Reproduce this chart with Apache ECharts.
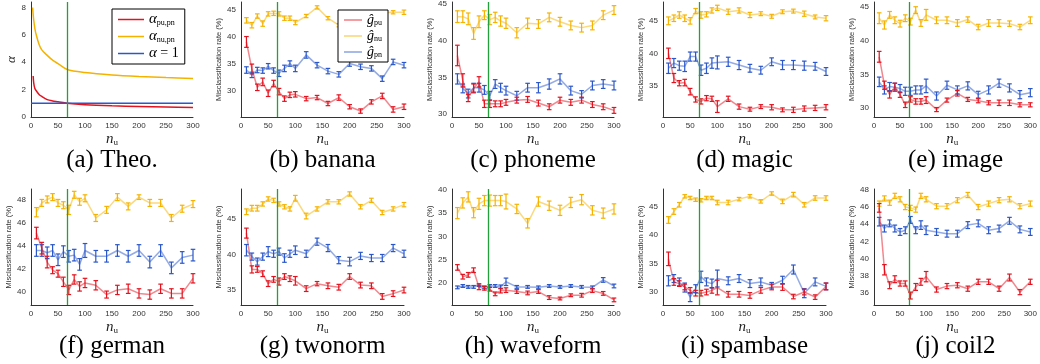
<!DOCTYPE html>
<html>
<head>
<meta charset="utf-8">
<script src="https://cdn.jsdelivr.net/npm/echarts@6/dist/echarts.min.js"></script>
<style>
  html, body { margin: 0; padding: 0; background: #fff; }
  #chart { width: 1040px; height: 364px; }
</style>
</head>
<body>
<div id="chart"></div>
<script>
// number of unlabeled samples
const nU = [10, 20, 30, 40, 50, 60, 70, 80, 90, 100, 120, 140, 160, 180, 200, 220, 240, 260, 280, 300];

// (a) theoretical alpha curves
const theoN = [3, 4, 5, 7, 10, 15, 20, 30, 40, 50, 67, 100, 150, 200, 250, 300];
const theoPu = [null, 3.0, 2.5, 2.1, 1.9, 1.65, 1.5, 1.27, 1.17, 1.11, 1.0, 0.9, 0.82, 0.77, 0.73, 0.7];
const theoNu = [8.0, 7.5, 7.1, 6.5, 5.95, 5.3, 4.9, 4.5, 4.15, 3.9, 3.47, 3.25, 3.07, 2.96, 2.88, 2.82];
const theoOne = [1, 1];
const theoOneN = [0, 300];

// misclassification rates (%) and error bars
const bananaPu = [39.1, 34.1, 30.7, 31.7, 29.6, 31.4, 29.9, 28.6, 29.3, 29.4, 28.6, 28.8, 27.7, 28.8, 27.1, 26.3, 28.0, 29.1, 26.6, 27.1];
const bananaNu = [43.1, 42.2, 43.9, 42.5, 44.3, 44.4, 44.3, 43.5, 43.5, 42.7, 43.9, 45.5, 43.5, 42.2, 43.5, 43.8, 44.0, 44.5, 44.6, 44.6];
const bananaPn = [33.9, 33.0, 33.9, 33.8, 34.6, 33.8, 33.3, 34.2, 35.1, 34.2, 36.7, 34.8, 33.7, 33.1, 35.1, 34.5, 34.2, 32.3, 35.4, 34.8];
const bananaPuErr = [1.0, 0.9, 0.6, 0.7, 0.6, 0.6, 0.6, 0.5, 0.5, 0.5, 0.4, 0.4, 0.4, 0.5, 0.4, 0.4, 0.4, 0.5, 0.5, 0.5];
const bananaNuErr = [0.5, 0.5, 0.4, 0.5, 0.4, 0.4, 0.4, 0.4, 0.4, 0.4, 0.3, 0.3, 0.3, 0.3, 0.3, 0.3, 0.3, 0.3, 0.3, 0.4];
const bananaPnErr = [0.6, 0.5, 0.5, 0.5, 0.5, 0.5, 0.6, 0.6, 0.5, 0.6, 0.6, 0.5, 0.5, 0.5, 0.5, 0.5, 0.5, 0.5, 0.5, 0.5];

const phonemePu = [38.0, 34.6, 32.2, 33.5, 34.4, 31.4, 31.4, 31.4, 31.4, 31.6, 31.9, 32.0, 31.5, 31.0, 31.9, 31.6, 31.9, 31.3, 31.0, 30.5];
const phonemeNu = [43.3, 43.3, 43.0, 41.0, 42.6, 43.5, 42.9, 43.2, 42.7, 42.4, 41.1, 42.4, 42.3, 43.2, 42.6, 42.1, 41.8, 42.1, 43.5, 44.2];
const phonemePn = [34.8, 33.5, 32.8, 33.6, 33.6, 33.3, 32.5, 34.1, 33.6, 33.2, 32.5, 33.6, 33.6, 34.1, 34.8, 33.2, 32.7, 33.9, 34.1, 33.9];
const phonemePuErr = [1.4, 0.9, 0.5, 0.6, 0.7, 0.5, 0.5, 0.4, 0.4, 0.4, 0.4, 0.4, 0.4, 0.4, 0.4, 0.4, 0.4, 0.4, 0.4, 0.4];
const phonemeNuErr = [0.8, 0.8, 0.8, 0.8, 0.8, 0.6, 0.7, 0.7, 0.7, 0.7, 0.7, 0.7, 0.6, 0.6, 0.6, 0.6, 0.6, 0.6, 0.6, 0.6];
const phonemePnErr = [0.7, 0.6, 0.6, 0.6, 0.6, 0.6, 0.6, 0.6, 0.6, 0.6, 0.6, 0.6, 0.7, 0.7, 0.7, 0.6, 0.5, 0.6, 0.6, 0.6];

const magicPu = [40.0, 36.2, 35.4, 35.5, 34.1, 32.9, 32.6, 33.1, 33.0, 31.8, 33.0, 31.8, 31.4, 31.8, 31.7, 31.3, 31.3, 31.5, 31.6, 31.7];
const magicNu = [45.0, 45.4, 45.9, 45.4, 45.0, 46.5, 45.9, 46.0, 46.6, 47.0, 46.4, 46.6, 45.9, 46.1, 45.7, 46.4, 46.5, 46.1, 45.6, 45.4];
const magicPn = [37.7, 38.5, 38.1, 38.0, 39.5, 39.5, 37.4, 37.7, 38.5, 38.6, 38.7, 38.2, 37.7, 37.4, 38.7, 38.2, 38.2, 38.1, 38.0, 37.2];
const magicPuErr = [0.8, 0.7, 0.4, 0.5, 0.5, 0.4, 0.4, 0.4, 0.4, 0.9, 0.4, 0.4, 0.3, 0.3, 0.4, 0.3, 0.4, 0.4, 0.4, 0.4];
const magicNuErr = [0.6, 0.5, 0.5, 0.5, 0.5, 0.4, 0.5, 0.4, 0.4, 0.4, 0.4, 0.4, 0.4, 0.3, 0.3, 0.3, 0.3, 0.4, 0.3, 0.4];
const magicPnErr = [0.8, 0.7, 0.7, 0.8, 0.7, 0.7, 0.8, 0.8, 0.8, 1.0, 0.7, 0.7, 0.6, 0.6, 0.6, 0.7, 0.7, 0.7, 0.6, 0.6];

const imagePu = [37.6, 33.4, 32.0, 33.2, 32.0, 30.5, 31.3, 31.0, 31.0, 31.2, 29.8, 31.2, 32.2, 31.3, 31.1, 30.8, 30.8, 30.8, 30.5, 30.5];
const imageNu = [43.3, 42.3, 43.8, 43.0, 42.5, 43.3, 42.8, 44.5, 42.6, 43.8, 43.0, 43.0, 42.6, 43.1, 42.0, 42.6, 42.6, 42.5, 42.0, 43.0];
const imagePn = [33.9, 32.7, 33.2, 33.1, 32.9, 32.5, 32.5, 32.7, 32.7, 33.3, 31.8, 33.4, 32.7, 33.3, 32.0, 32.7, 33.7, 33.0, 32.0, 32.3];
const imagePuErr = [0.8, 0.6, 0.5, 0.5, 0.4, 0.4, 0.4, 0.4, 0.4, 0.5, 0.3, 0.3, 0.4, 0.3, 0.3, 0.3, 0.4, 0.4, 0.3, 0.3];
const imageNuErr = [0.8, 0.6, 0.5, 0.5, 0.5, 0.5, 0.5, 0.5, 0.5, 0.8, 0.5, 0.5, 0.5, 0.4, 0.4, 0.5, 0.5, 0.4, 0.4, 0.5];
const imagePnErr = [0.7, 0.6, 0.6, 0.6, 0.6, 0.6, 0.6, 0.6, 0.6, 1.0, 0.6, 0.6, 0.6, 0.6, 0.5, 0.6, 0.6, 0.6, 0.6, 0.6];

const germanPu = [45.1, 43.8, 42.6, 41.9, 41.6, 40.9, 40.2, 41.1, 40.5, 40.8, 40.6, 39.8, 40.2, 40.3, 39.9, 39.8, 40.3, 39.9, 39.9, 41.2];
const germanNu = [46.9, 47.7, 48.0, 48.2, 47.7, 47.5, 47.1, 48.4, 47.8, 48.1, 46.4, 47.1, 48.2, 47.4, 48.2, 47.7, 47.7, 46.4, 47.2, 47.6];
const germanPn = [43.6, 43.6, 43.4, 43.6, 42.8, 43.5, 43.1, 43.2, 42.4, 43.6, 43.1, 43.1, 43.6, 43.1, 43.6, 42.6, 43.6, 42.1, 43.0, 43.2];
const germanPuErr = [0.5, 0.5, 0.5, 0.3, 0.3, 0.4, 0.4, 0.4, 0.4, 0.4, 0.4, 0.3, 0.4, 0.4, 0.4, 0.4, 0.4, 0.4, 0.4, 0.4];
const germanNuErr = [0.4, 0.3, 0.3, 0.3, 0.3, 0.3, 0.4, 0.3, 0.3, 0.3, 0.3, 0.3, 0.3, 0.3, 0.2, 0.3, 0.3, 0.3, 0.3, 0.3];
const germanPnErr = [0.5, 0.5, 0.5, 0.5, 0.5, 0.5, 0.5, 0.5, 0.5, 0.6, 0.5, 0.5, 0.5, 0.5, 0.5, 0.5, 0.5, 0.5, 0.5, 0.5];

const twonormPu = [43.0, 37.9, 37.9, 37.3, 35.9, 36.5, 36.2, 36.9, 36.6, 36.3, 35.2, 35.9, 35.6, 35.4, 36.9, 35.7, 35.6, 34.1, 34.5, 35.0];
const twonormNu = [46.0, 46.5, 46.5, 47.1, 47.8, 47.6, 47.1, 46.7, 46.4, 47.9, 45.4, 46.4, 47.4, 47.4, 48.5, 46.7, 47.6, 45.9, 46.4, 47.0];
const twonormPn = [40.6, 39.7, 39.0, 39.7, 40.4, 40.1, 40.4, 39.5, 40.1, 40.6, 40.1, 41.8, 40.9, 39.2, 39.0, 39.8, 39.5, 39.5, 40.9, 40.1];
const twonormPuErr = [0.7, 0.5, 0.4, 0.4, 0.4, 0.4, 0.5, 0.4, 0.4, 0.6, 0.4, 0.3, 0.4, 0.4, 0.4, 0.4, 0.4, 0.4, 0.4, 0.4];
const twonormNuErr = [0.4, 0.4, 0.4, 0.3, 0.3, 0.3, 0.3, 0.3, 0.3, 0.4, 0.4, 0.3, 0.3, 0.3, 0.3, 0.3, 0.3, 0.3, 0.3, 0.3];
const twonormPnErr = [0.8, 0.5, 0.5, 0.5, 0.7, 0.5, 0.5, 0.6, 0.5, 0.6, 0.5, 0.5, 0.5, 0.5, 0.6, 0.5, 0.5, 0.5, 0.5, 0.5];

const waveformPu = [23.3, 21.3, 21.7, 22.7, 19.0, 18.8, 18.6, 17.6, 18.3, 18.4, 18.1, 17.8, 18.1, 16.8, 16.6, 17.3, 17.3, 18.3, 17.7, 16.3];
const waveformNu = [35.0, 37.2, 38.5, 35.1, 37.0, 37.7, 37.7, 37.7, 37.7, 37.5, 35.9, 32.8, 37.5, 36.6, 35.6, 37.3, 37.9, 35.6, 35.0, 35.9];
const waveformPn = [19.0, 19.3, 19.1, 19.1, 19.5, 19.0, 19.3, 19.3, 19.1, 20.2, 19.1, 19.1, 19.0, 19.3, 19.1, 19.3, 19.1, 19.0, 20.6, 19.3];
const waveformPuErr = [0.6, 0.5, 0.5, 0.5, 0.5, 0.4, 0.4, 0.4, 0.5, 0.5, 0.4, 0.4, 0.4, 0.4, 0.3, 0.3, 0.4, 0.4, 0.4, 0.4];
const waveformNuErr = [1.2, 1.1, 1.1, 1.1, 1.2, 1.1, 1.2, 1.1, 1.1, 1.6, 1.0, 1.0, 1.0, 1.0, 1.1, 1.1, 1.1, 1.0, 1.1, 1.1];
const waveformPnErr = [0.3, 0.3, 0.3, 0.3, 0.3, 0.3, 0.3, 0.3, 0.4, 0.8, 0.3, 0.3, 0.3, 0.3, 0.3, 0.3, 0.3, 0.3, 0.5, 0.4];

const spambasePu = [35.8, 31.7, 31.4, 30.8, 30.2, 29.7, 29.7, 29.9, 30.2, 30.7, 29.5, 29.5, 29.3, 30.2, 30.8, 30.8, 29.1, 29.9, 29.0, 30.9];
const spambaseNu = [42.7, 44.2, 45.4, 46.9, 46.6, 46.3, 46.2, 46.6, 46.6, 45.8, 45.8, 46.4, 46.9, 46.0, 47.4, 46.0, 47.2, 45.4, 46.6, 46.6];
const spambasePn = [31.9, 32.3, 31.7, 30.7, 29.0, 30.5, 32.6, 31.7, 31.4, 32.3, 31.9, 32.3, 31.4, 31.7, 31.1, 32.0, 33.9, 29.7, 31.7, 30.9];
const spambasePuErr = [1.2, 0.6, 0.5, 0.5, 0.5, 0.5, 0.5, 0.5, 0.5, 1.3, 0.5, 0.5, 0.5, 0.5, 0.5, 0.6, 0.4, 0.5, 0.4, 0.6];
const spambaseNuErr = [0.6, 0.5, 0.4, 0.3, 0.3, 0.3, 0.3, 0.3, 0.3, 0.4, 0.4, 0.3, 0.3, 0.3, 0.3, 0.4, 0.4, 0.4, 0.4, 0.4];
const spambasePnErr = [0.9, 0.7, 0.7, 0.8, 0.8, 0.7, 1.0, 0.7, 0.8, 1.5, 0.7, 0.7, 0.7, 0.7, 0.5, 0.7, 0.8, 0.8, 0.7, 0.6];

const coil2Pu = [45.9, 38.7, 36.9, 37.6, 37.1, 37.1, 35.7, 36.7, 37.3, 37.9, 36.4, 36.8, 36.9, 36.5, 37.3, 37.3, 36.5, 37.8, 36.1, 37.3];
const coil2Nu = [46.4, 47.0, 46.5, 47.3, 46.9, 46.0, 45.9, 45.7, 47.3, 46.9, 46.1, 46.1, 46.8, 47.4, 46.0, 46.4, 46.8, 46.9, 46.1, 46.4];
const coil2Pn = [44.3, 43.5, 44.1, 43.5, 43.1, 43.3, 44.5, 43.3, 43.9, 43.3, 43.1, 42.9, 42.9, 43.9, 44.1, 43.3, 43.5, 44.4, 43.4, 43.1];
const coil2PuErr = [0.5, 0.6, 0.4, 0.4, 0.3, 0.3, 0.4, 0.4, 0.4, 0.6, 0.3, 0.3, 0.3, 0.3, 0.3, 0.3, 0.3, 0.4, 0.3, 0.3];
const coil2NuErr = [0.3, 0.3, 0.3, 0.3, 0.3, 0.3, 0.3, 0.3, 0.3, 0.3, 0.3, 0.3, 0.3, 0.3, 0.3, 0.3, 0.3, 0.3, 0.3, 0.3];
const coil2PnErr = [0.5, 0.4, 0.4, 0.4, 0.4, 0.4, 0.4, 0.4, 0.5, 0.5, 0.4, 0.4, 0.4, 0.4, 0.4, 0.4, 0.4, 0.4, 0.4, 0.4];

const greenLineAt = 67;

const panels = [
  { title: '(b) banana', yMin: 25.2, yMax: 46.5, step: 5, pu: bananaPu, nu: bananaNu, pn: bananaPn, puErr: bananaPuErr, nuErr: bananaNuErr, pnErr: bananaPnErr },
  { title: '(c) phoneme', yMin: 29.6, yMax: 45.3, step: 5, pu: phonemePu, nu: phonemeNu, pn: phonemePn, puErr: phonemePuErr, nuErr: phonemeNuErr, pnErr: phonemePnErr },
  { title: '(d) magic', yMin: 30.2, yMax: 47.9, step: 5, pu: magicPu, nu: magicNu, pn: magicPn, puErr: magicPuErr, nuErr: magicNuErr, pnErr: magicPnErr },
  { title: '(e) image', yMin: 28.7, yMax: 45.7, step: 5, pu: imagePu, nu: imageNu, pn: imagePn, puErr: imagePuErr, nuErr: imageNuErr, pnErr: imagePnErr },
  { title: '(f) german', yMin: 38.9, yMax: 48.9, step: 2, pu: germanPu, nu: germanNu, pn: germanPn, puErr: germanPuErr, nuErr: germanNuErr, pnErr: germanPnErr },
  { title: '(g) twonorm', yMin: 32.9, yMax: 49.2, step: 5, pu: twonormPu, nu: twonormNu, pn: twonormPn, puErr: twonormPuErr, nuErr: twonormNuErr, pnErr: twonormPnErr },
  { title: '(h) waveform', yMin: 15.2, yMax: 40.2, step: 5, pu: waveformPu, nu: waveformNu, pn: waveformPn, puErr: waveformPuErr, nuErr: waveformNuErr, pnErr: waveformPnErr },
  { title: '(i) spambase', yMin: 27.6, yMax: 48.2, step: 5, pu: spambasePu, nu: spambaseNu, pn: spambasePn, puErr: spambasePuErr, nuErr: spambaseNuErr, pnErr: spambasePnErr },
  { title: '(j) coil2', yMin: 34.6, yMax: 48.1, step: 2, pu: coil2Pu, nu: coil2Nu, pn: coil2Pn, puErr: coil2PuErr, nuErr: coil2NuErr, pnErr: coil2PnErr }
];

// layout
const colLeft = [31, 241, 452, 663, 874];
const colWidth = [162, 163, 162, 163, 163];
const rowTop = [2, 189];
const rowHeight = [115, 116];
const titleY = [160, 346];

const RED = '#e3121e', YELLOW = '#f5b300', BLUE = '#2a57c9', GREEN = '#22a03a';
const SANS = 'Liberation Sans, Arial, sans-serif';
const SERIF = 'Liberation Serif, Times New Roman, serif';

function stepLabel(step) {
  return function (v) {
    const r = v / step;
    return Math.abs(r - Math.round(r)) < 1e-6 ? String(Math.round(v)) : '';
  };
}

function errorBar(color) {
  return function (params, api) {
    const x = api.value(0), y = api.value(1), e = api.value(2);
    const lo = api.coord([x, y - e]);
    const hi = api.coord([x, y + e]);
    const w = 2.3;
    const style = { stroke: color, lineWidth: 1.2, fill: null };
    return {
      type: 'group',
      children: [
        { type: 'line', shape: { x1: lo[0], y1: lo[1], x2: hi[0], y2: hi[1] }, style: style },
        { type: 'line', shape: { x1: lo[0] - w, y1: lo[1], x2: lo[0] + w, y2: lo[1] }, style: style },
        { type: 'line', shape: { x1: hi[0] - w, y1: hi[1], x2: hi[0] + w, y2: hi[1] }, style: style }
      ]
    };
  };
}

const greenMark = {
  silent: true,
  symbol: 'none',
  label: { show: false },
  lineStyle: { color: GREEN, width: 1.3, type: 'solid', opacity: 1 },
  data: [{ xAxis: greenLineAt }]
};

const grids = [], xAxes = [], yAxes = [], series = [], graphics = [];

function addAxes(idx, yMin, yMax, step, yName, yNameStyle, yGap) {
  const col = idx % 5, row = Math.floor(idx / 5);
  grids.push({ left: colLeft[col], top: rowTop[row], width: colWidth[col], height: rowHeight[row], containLabel: false });
  xAxes.push({
    gridIndex: idx, type: 'value', min: 0, max: 300, interval: 50,
    axisLine: { onZero: false, lineStyle: { color: '#333', width: 1 } },
    axisTick: { show: false },
    splitLine: { show: false },
    axisLabel: { fontSize: 8, color: '#333', fontFamily: SANS, margin: 5 },
    name: '{n|n}{u|u}', nameLocation: 'middle', nameGap: 15,
    nameTextStyle: {
      rich: {
        n: { fontFamily: SERIF, fontStyle: 'italic', fontSize: 15, color: '#222' },
        u: { fontFamily: SERIF, fontSize: 9, color: '#222', verticalAlign: 'bottom' }
      }
    }
  });
  yAxes.push({
    gridIndex: idx, type: 'value', min: yMin, max: yMax, interval: 0.1,
    axisLine: { show: true, onZero: false, lineStyle: { color: '#333', width: 1 } },
    axisTick: { show: false },
    splitLine: { show: false },
    axisLabel: { fontSize: 8, color: '#333', fontFamily: SANS, margin: 5, interval: 0, formatter: stepLabel(step) },
    name: yName, nameLocation: 'middle', nameGap: yGap, nameTextStyle: yNameStyle
  });
  graphics.push({
    type: 'text',
    x: colLeft[col] + colWidth[col] / 2,
    y: titleY[row],
    style: {
      text: idx === 0 ? '(a) Theo.' : panels[idx - 1].title,
      font: '25px ' + SERIF,
      fill: '#000',
      align: 'center',
      verticalAlign: 'middle'
    }
  });
}

// (a) theoretical panel
addAxes(0, 0, 8.4, 2, '{a|α}', { rich: { a: { fontFamily: SERIF, fontStyle: 'italic', fontSize: 13, color: '#222' } } }, 12);
series.push({
  name: 'apu', type: 'line', xAxisIndex: 0, yAxisIndex: 0, symbol: 'none', smooth: 0.3,
  data: theoN.map((n, i) => [n, theoPu[i]]),
  lineStyle: { color: RED, width: 1.5 }, itemStyle: { color: RED },
  markLine: greenMark, z: 2
});
series.push({
  name: 'anu', type: 'line', xAxisIndex: 0, yAxisIndex: 0, symbol: 'none', smooth: 0.3,
  data: theoN.map((n, i) => [n, theoNu[i]]),
  lineStyle: { color: YELLOW, width: 1.5 }, itemStyle: { color: YELLOW }, z: 2
});
series.push({
  name: 'aone', type: 'line', xAxisIndex: 0, yAxisIndex: 0, symbol: 'none',
  data: theoOneN.map((n, i) => [n, theoOne[i]]),
  lineStyle: { color: BLUE, width: 1.5 }, itemStyle: { color: BLUE }, z: 2
});

// experiment panels
panels.forEach(function (p, k) {
  const idx = k + 1;
  addAxes(idx, p.yMin, p.yMax, p.step, 'Misclassification rate (%)',
    { fontSize: 7.5, color: '#333', fontFamily: SANS }, 17);
  const sets = [
    ['gnu', p.nu, p.nuErr, YELLOW],
    ['gpn', p.pn, p.pnErr, BLUE],
    ['gpu', p.pu, p.puErr, RED]
  ];
  sets.forEach(function (s, j) {
    series.push({
      name: s[0], type: 'line', xAxisIndex: idx, yAxisIndex: idx, symbol: 'none',
      data: nU.map((n, i) => [n, s[1][i]]),
      lineStyle: { color: s[3], width: 1.5, opacity: 0.5 }, itemStyle: { color: s[3] },
      markLine: j === 0 ? greenMark : undefined, z: 2
    });
    series.push({
      name: 'err', type: 'custom', xAxisIndex: idx, yAxisIndex: idx,
      renderItem: errorBar(s[3]),
      encode: { x: 0, y: 1 },
      data: nU.map((n, i) => [n, s[1][i], s[2][i]]),
      z: 3
    });
  });
});

const theoLegendText = { apu: '{a|α}{s|pu,pn}', anu: '{a|α}{s|nu,pn}', aone: '{a|α}{t| = 1}' };
const gLegendText = { gpu: '{g|ĝ}{s|pu}', gnu: '{g|ĝ}{s|nu}', gpn: '{g|ĝ}{s|pn}' };

const option = {
  animation: false,
  backgroundColor: '#fff',
  grid: grids,
  xAxis: xAxes,
  yAxis: yAxes,
  series: series,
  graphic: graphics,
  legend: [
    {
      data: ['apu', 'anu', 'aone'], orient: 'vertical', left: 112, top: 9, z: 10,
      icon: 'rect', itemWidth: 26, itemHeight: 1.5, itemGap: 2, padding: [3, 6, 3, 6],
      borderColor: '#000', borderWidth: 1, backgroundColor: '#fff',
      selectedMode: false,
      formatter: name => theoLegendText[name],
      textStyle: {
        rich: {
          a: { fontFamily: SERIF, fontStyle: 'italic', fontSize: 15, color: '#000' },
          s: { fontFamily: SERIF, fontSize: 8, color: '#000', verticalAlign: 'bottom' },
          t: { fontFamily: SERIF, fontSize: 14, color: '#000' }
        }
      }
    },
    {
      data: [
        { name: 'gpu', itemStyle: { opacity: 0.55 } },
        { name: 'gnu', itemStyle: { opacity: 0.55 } },
        { name: 'gpn', itemStyle: { opacity: 0.55 } }
      ],
      orient: 'vertical', left: 338, top: 10, z: 10,
      icon: 'rect', itemWidth: 18, itemHeight: 1.5, itemGap: 2, padding: [3, 6, 3, 6],
      borderColor: '#000', borderWidth: 1, backgroundColor: '#fff',
      selectedMode: false,
      formatter: name => gLegendText[name],
      textStyle: {
        rich: {
          g: { fontFamily: SERIF, fontStyle: 'italic', fontSize: 14, color: '#000' },
          s: { fontFamily: SERIF, fontSize: 8, color: '#000', verticalAlign: 'bottom' }
        }
      }
    }
  ]
};

const chart = echarts.init(document.getElementById('chart'), null, { renderer: 'canvas' });
chart.setOption(option);
</script>
</body>
</html>
